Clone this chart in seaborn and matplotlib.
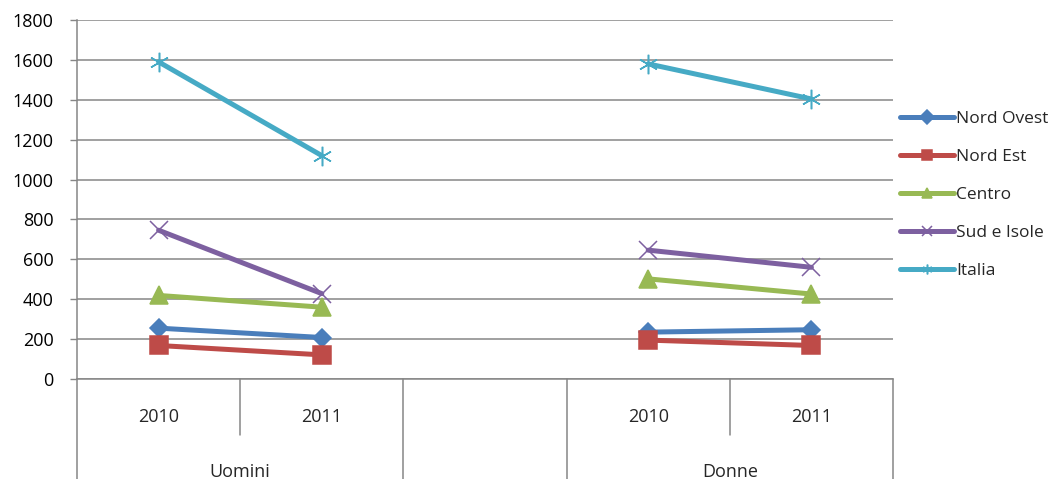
import pandas as pd
import seaborn as sns
import matplotlib.pyplot as plt
import matplotlib.transforms as mtransforms

# data
regions = ['Nord Ovest', 'Nord Est', 'Centro', 'Sud e Isole', 'Italia']
slot_labels = ['2010', '2011', '', '2010', '2011']   # category slots on the x axis
groups = ['Uomini', 'Donne']
group_slots = {'Uomini': [0, 1], 'Donne': [3, 4]}
years = ['2010', '2011']

uomini_2010 = [255, 168, 419, 746, 1590]
uomini_2011 = [208, 121, 360, 428, 1120]
donne_2010 = [235, 195, 502, 646, 1580]
donne_2011 = [247, 168, 426, 560, 1404]

colors = ['#4A7EBB', '#BE4B48', '#98B954', '#7D60A0', '#46AAC5']
markers = ['D', 's', '^', 'x', (6, 2, 0)]
msizes = [9.5, 13.5, 13.5, 13.5, 14]

values = {('Uomini', '2010'): uomini_2010, ('Uomini', '2011'): uomini_2011,
          ('Donne', '2010'): donne_2010, ('Donne', '2011'): donne_2011}

rows = []
for g in groups:
    for yi, yr in enumerate(years):
        for r, v in zip(regions, values[(g, yr)]):
            rows.append({'gruppo': g, 'anno': yr, 'pos': group_slots[g][yi],
                         'regione': r, 'valore': v})
df = pd.DataFrame(rows)

sns.set_theme(style='white')
plt.rcParams['font.family'] = ['Open Sans', 'DejaVu Sans']

fig = plt.figure(figsize=(10.55, 4.79), dpi=100)
ax = fig.add_axes([77 / 1055, 100 / 479, 816 / 1055, 359 / 479])

for r, c, m, ms in zip(regions, colors, markers, msizes):
    sub = df[df['regione'] == r]
    sns.lineplot(data=sub, x='pos', y='valore', units='gruppo', estimator=None,
                 color=c, marker=m, markersize=ms, markeredgecolor=c,
                 markeredgewidth=1.1, linewidth=3.6, label=r, ax=ax, zorder=3)

grid_c = '#868686'
ax.set_xlim(-0.5, len(slot_labels) - 0.5)
ax.set_ylim(0, 1800)
ax.set_yticks(range(0, 1801, 200))
ax.yaxis.grid(True, color=grid_c, lw=1.1)
ax.set_xticks([])
ax.set_xlabel('')
ax.set_ylabel('')
ax.tick_params(axis='y', length=5, width=1, color=grid_c, pad=12, labelsize=13,
               left=True, labelcolor='black')
for s in ['top', 'right']:
    ax.spines[s].set_visible(False)
for s in ['left', 'bottom']:
    ax.spines[s].set_color(grid_c)
    ax.spines[s].set_linewidth(1.1)

# two-level category axis
trans = mtransforms.blended_transform_factory(ax.transData, ax.transAxes)
fig_bottom = -100 / 359
short_bottom = -56 / 359
for i in range(len(slot_labels) + 1):
    xv = i - 0.5
    yb = short_bottom if i in (1, 4) else fig_bottom
    ax.plot([xv, xv], [0, yb], transform=trans, color=grid_c, lw=1.1, clip_on=False)

for i, lab in enumerate(slot_labels):
    if lab:
        ax.text(i, -38 / 359, lab, transform=trans, ha='center', va='center', fontsize=13)
for g in groups:
    ax.text(sum(group_slots[g]) / 2, -93 / 359, g,
            transform=trans, ha='center', va='center', fontsize=13)

handles, labels = ax.get_legend_handles_labels()
uniq = dict(zip(labels, handles))
ax.legend_.remove()
leg = fig.legend([uniq[r] for r in regions], regions, loc='center left',
                 bbox_to_anchor=(891 / 1055, 0.593),
                 frameon=False, fontsize=12.5, handlelength=3.1, handletextpad=0.15,
                 labelspacing=1.25, borderpad=0)
for ln in leg.get_lines():
    ln.set_markersize(7)

fig.savefig('out.png', dpi=100)
